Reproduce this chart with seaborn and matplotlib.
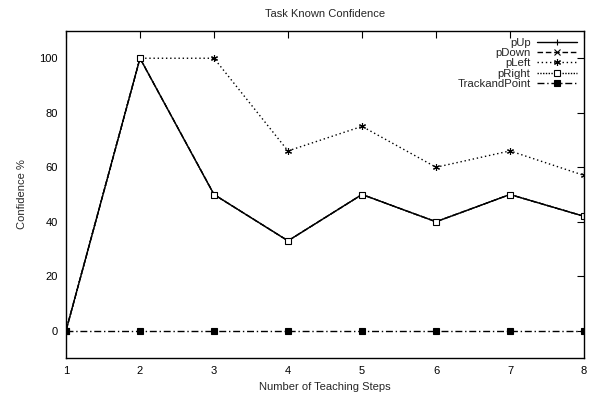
import matplotlib
matplotlib.use("Agg")
import matplotlib.pyplot as plt
import seaborn as sns
import pandas as pd

steps = [1, 2, 3, 4, 5, 6, 7, 8]
p_up = [0, 100, 50, 33, 50, 40, 50, 42]
p_down = [0, 100, 50, 33, 50, 40, 50, 42]
p_left = [0, 100, 100, 66, 75, 60, 66, 57]
p_right = [0, 100, 50, 33, 50, 40, 50, 42]
track_point = [0, 0, 0, 0, 0, 0, 0, 0]

sns.set_style("white")
plt.rcParams["font.family"] = ["Liberation Sans", "DejaVu Sans"]
plt.rcParams["font.size"] = 8

fig = plt.figure(figsize=(5.93, 3.94), dpi=100)
ax = fig.add_axes([66 / 593, 1 - 358 / 394, (584 - 66) / 593, (358 - 31) / 394])

series = [
    ("pUp", p_up, dict(linestyle="-", marker="+", ms=5)),
    ("pDown", p_down, dict(linestyle=(0, (4, 2)), marker="x", ms=4)),
    ("pLeft", p_left, dict(linestyle=(0, (1, 2)), marker=(6, 2, 0), ms=5)),
    ("pRight", p_right, dict(linestyle=(0, (1, 1)), marker="s", ms=4, mfc="white")),
    ("TrackandPoint", track_point, dict(linestyle=(0, (5, 2, 1, 2)), marker="s", ms=4)),
]

for name, vals, kw in series:
    df = pd.DataFrame({"step": steps, "conf": vals})
    sns.lineplot(data=df, x="step", y="conf", ax=ax, color="black", lw=1,
                 mec="black", mew=0.8, label=name, **kw)

ax.set_xlim(1, 8)
ax.set_ylim(-10, 110)
ax.set_xticks(steps)
ax.set_yticks([0, 20, 40, 60, 80, 100])
ax.tick_params(direction="in", length=5, width=0.8, top=True, right=True,
               labelsize=8, colors="black", pad=6)
for s in ax.spines.values():
    s.set_color("black")
    s.set_linewidth(1)

ax.set_title("Task Known Confidence", fontsize=8, pad=10)
ax.set_xlabel("Number of Teaching Steps", fontsize=8)
ax.set_ylabel("Confidence %", fontsize=8, labelpad=9)

leg = ax.legend(loc="upper right", frameon=False, markerfirst=False,
                fontsize=8.2, handlelength=3.5, labelspacing=0.02,
                borderaxespad=0.2, handletextpad=0.6)
for t in leg.get_texts():
    t.set_ha("right")

fig.savefig("out.png", dpi=100)
